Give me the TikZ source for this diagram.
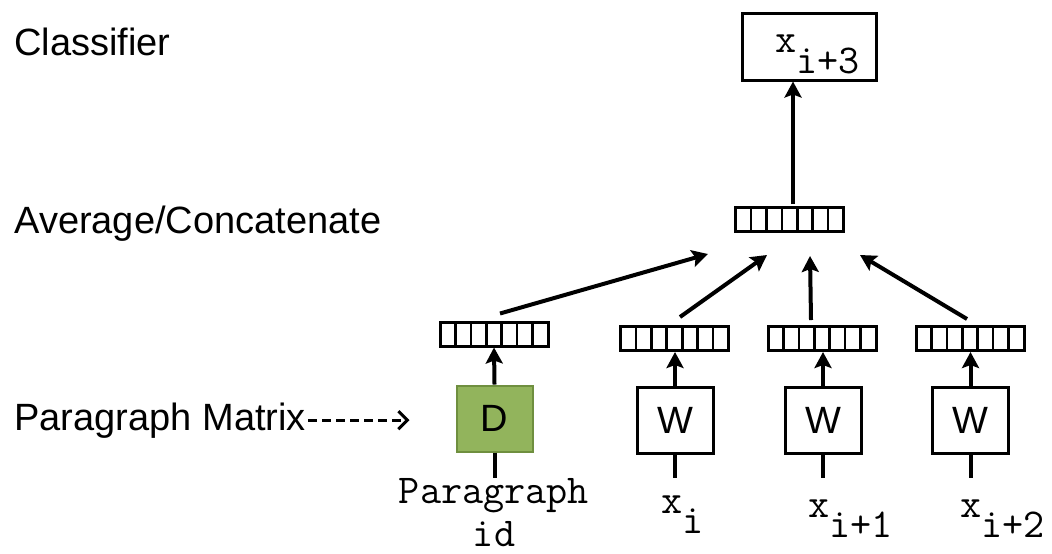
\documentclass[tikz,border=0pt]{standalone}
\usepackage{fontspec}
\setmainfont{Liberation Sans}
\usetikzlibrary{arrows.meta,calc}
\definecolor{dfill}{HTML}{92B45C}
\definecolor{ddraw}{HTML}{6F8F3F}
\tikzset{
  lab/.style={font=\fontsize{19}{22}\selectfont, inner sep=0pt, anchor=base west},
  ttl/.style={font=\fontsize{20.5}{21.5}\selectfont\ttfamily, inner sep=0pt},
  vec/.style={draw, line width=1.5pt, minimum width=54pt, minimum height=12pt, inner sep=0pt,
    path picture={\foreach \k in {1,...,6}{\draw[line width=1.3pt]
      ($(path picture bounding box.south west)!\k/7!(path picture bounding box.south east)$) --
      ($(path picture bounding box.north west)!\k/7!(path picture bounding box.north east)$);}}},
  wbox/.style={draw, line width=1.5pt, minimum width=38pt, minimum height=33pt, inner sep=0pt,
    font=\fontsize{19}{22}\selectfont},
  dbox/.style={wbox, fill=dfill, draw=ddraw, line width=1pt},
  outbox/.style={draw, line width=1.5pt, minimum width=67pt, minimum height=33.5pt, inner sep=0pt},
  arr/.style={line width=2pt, -{Stealth[length=8pt,width=8.5pt,inset=1.5pt]}},
  feed/.style={line width=2pt},
  dasharr/.style={line width=1.4pt, dash pattern=on 4.5pt off 2.5pt, -{Straight Barb[length=4.5pt,width=9pt,line width=1.5pt]}}
}
\begin{document}
\begin{tikzpicture}[x=0.5pt,y=-0.5pt]
\path[use as bounding box] (0,0) rectangle (1052,553);
% side labels
\node[lab] (cls) at (14,55) {Classifier};
\node[lab] (avg) at (14,233) {Average/Concatenate};
\node[lab] (pm) at (14,430) {Paragraph Matrix};
% top output box
\node[outbox] (top) at (809,46.5) {};
\node[ttl, anchor=base west] (xo) at (775,52) {x\raisebox{-10.5pt}{i+3}};
% middle vector
\node[vec] (mid) at (789.5,219.5) {};
% lower vectors
\node[vec] (dv) at (494,334) {};
\node[vec] (v1) at (674.5,338.5) {};
\node[vec] (v2) at (822,338.5) {};
\node[vec] (v3) at (970,338.5) {};
% boxes
\node[dbox] (D) at (494.5,418.5) {D};
\node[wbox] (W1) at (675,420) {W};
\node[wbox] (W2) at (823,420) {W};
\node[wbox] (W3) at (970.5,420) {W};
% input ends
\coordinate (iD) at (494.5,478);
\coordinate (i1) at (675,478);
\coordinate (i2) at (823,478);
\coordinate (i3) at (970.5,478);
% input labels
\node[ttl, align=center, anchor=base] (lp) at (494,546) {Paragraph\\id};
\node[ttl, anchor=base west] (lx1) at (661,513) {x\raisebox{-10pt}{i}};
\node[ttl, anchor=base west] (lx2) at (808,517) {x\raisebox{-10pt}{i+1}};
\node[ttl, anchor=base west] (lx3) at (960,517) {x\raisebox{-10pt}{i+2}};
% arrow tips near the middle vector
\coordinate (t0) at (708,254);
\coordinate (t1) at (767,255);
\coordinate (t2) at (810,256);
\coordinate (t3) at (860,255);
% connectors
\draw[feed] (D.south) -- (iD);
\draw[feed] (W1.south) -- (i1);
\draw[feed] (W2.south) -- (i2);
\draw[feed] (W3.south) -- (i3);
\draw[arr] (D.north) -- (dv.south);
\draw[arr] (W1.north) -- (W1.north |- v1.south);
\draw[arr] (W2.north) -- (W2.north |- v2.south);
\draw[arr] (W3.north) -- (W3.north |- v3.south);
\draw[arr] ([xshift=3pt,yshift=3.5pt]dv.north) -- (t0);
\draw[arr] ([xshift=2.75pt,yshift=4pt]v1.north) -- (t1);
\draw[arr] ([xshift=-5.5pt,yshift=2.5pt]v2.north) -- (t2);
\draw[arr] ([xshift=-1.5pt,yshift=3pt]v3.north) -- (t3);
\draw[arr] ([xshift=1.75pt,yshift=1pt]mid.north) coordinate (m) -- (m |- top.south);
\draw[dasharr, shorten <=1pt, shorten >=23pt] (pm.east) -- (pm.east -| D.west);
\end{tikzpicture}
\end{document}
